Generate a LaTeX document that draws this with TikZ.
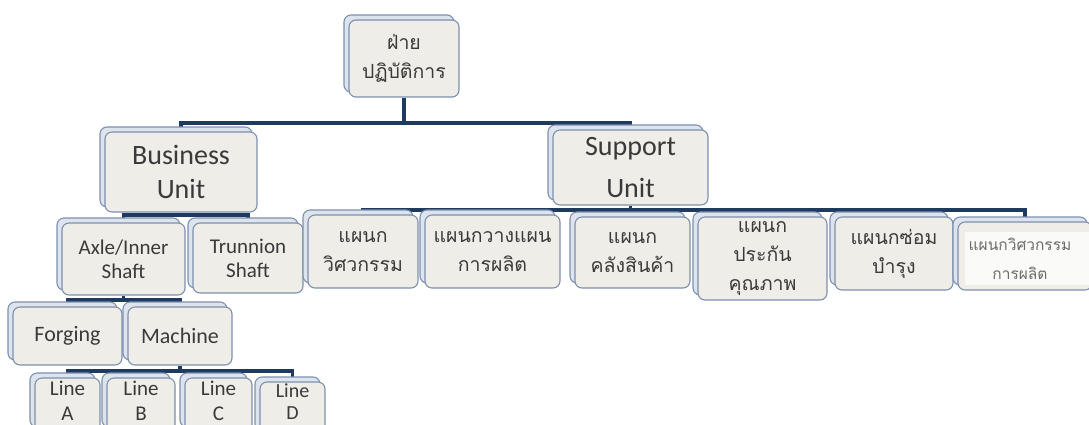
\documentclass[tikz,border=0pt]{standalone}
\usepackage{fontspec}
\setmainfont{Carlito}
\newfontfamily\thaifont[Script=Thai]{Loma}
\usetikzlibrary{shadows,backgrounds}

\definecolor{navy}{HTML}{1F3A5F}
\definecolor{cardfill}{HTML}{EEEDE7}
\definecolor{backfill}{HTML}{DEE4EE}
\definecolor{cardline}{HTML}{7D90AE}
\definecolor{txt}{HTML}{3A3A3A}
\definecolor{faint}{HTML}{6A6A6A}

\begin{document}
\begin{tikzpicture}[x=1pt,y=-1pt,
  card/.style={draw=cardline, fill=cardfill, rounded corners=7pt, line width=1.1pt,
    inner sep=0pt, align=center, text=txt,
    copy shadow={shadow xshift=-5pt, shadow yshift=5pt, fill=backfill, draw=cardline, line width=1.1pt}},
  big/.style={font=\fontsize{28}{34}\selectfont},
  mid/.style={font=\fontsize{21}{24}\selectfont},
  small/.style={font=\fontsize{22}{28}\selectfont},
  tiny/.style={font=\fontsize{21}{25}\selectfont, minimum height=54pt, text depth=9pt},
  th/.style={font=\thaifont\fontsize{19.5}{29}\selectfont},
  bus/.style={draw=navy, line width=3.5pt},
]
\useasboundingbox (0,0) rectangle (1089,424);

% level 0
\node[card, th, minimum width=110pt, minimum height=77pt] (top) at (404,58.5) {ฝ่าย\\ปฏิบัติการ};

% level 1
\node[card, big, minimum width=152pt, minimum height=80pt] (bu) at (181,172) {Business\\Unit};
\node[card, font=\fontsize{28}{42}\selectfont, minimum width=155pt, minimum height=75pt] (su) at (630.5,167.5) {Support\\Unit};

% business unit branch
\node[card, mid, minimum width=123pt, minimum height=72pt] (axle) at (123.5,259) {Axle/Inner\\Shaft};
\node[card, mid, minimum width=110pt, minimum height=70pt] (trun) at (248,258) {Trunnion\\Shaft};
\node[card, small, minimum width=109pt, minimum height=58pt] (forg) at (67.5,336) {Forging};
\node[card, small, minimum width=104pt, minimum height=58pt] (mach) at (180,336) {Machine};
\node[card, tiny, minimum width=65pt] (la) at (67.5,405) {Line\\A};
\node[card, tiny, minimum width=68pt] (lb) at (141,405) {Line\\B};
\node[card, tiny, minimum width=67pt] (lc) at (218.5,405) {Line\\C};
\node[card, tiny, font=\fontsize{20}{22}\selectfont, text depth=14pt, minimum width=65pt] (ld) at (292.5,409) {Line\\D};

% support unit branch
\node[card, th, minimum width=110pt, minimum height=73pt] (s1) at (363,251.5) {แผนก\\วิศวกรรม};
\node[card, th, minimum width=135pt, minimum height=73pt] (s2) at (492.5,251.5) {แผนกวางแผน\\การผลิต};
\node[card, th, minimum width=115pt, minimum height=71pt] (s3) at (632.5,252.5) {แผนก\\คลังสินค้า};
\node[card, th, minimum width=129pt, minimum height=83pt] (s4) at (762.5,258.5) {แผนก\\ประกัน\\คุณภาพ};
\node[card, th, minimum width=118pt, minimum height=73pt] (s5) at (894,253.5) {แผนกซ่อม\\บำรุง};
\node[card, minimum width=134pt, minimum height=68pt] (s6) at (1025,256) {};
\fill[white!70!cardfill] (s6.center) ++(-60,-24) rectangle ++(124,53);
\node[font=\thaifont\fontsize{15.5}{29}\selectfont, text=faint, align=center] (s6t) at (1020,259) {แผนกวิศวกรรม\\การผลิต};

% connector junction levels
\coordinate (j1) at (404,123);
\coordinate (j2) at (181,215);
\coordinate (j3) at (630.5,210);
\coordinate (j4) at (123.5,300);
\coordinate (j5) at (180,371);

\begin{scope}[on background layer]
  \foreach \c in {bu,su} \draw[bus] (top.south) -- (j1) -| (\c.north);
  \foreach \c in {axle,trun} \draw[bus] (bu.south) -- (j2) -| (\c.north);
  \foreach \c in {s1,s2,s3,s4,s5,s6} \draw[bus] (su.south) -- (j3) -| (\c.north);
  \foreach \c in {forg,mach} \draw[bus] (axle.south) -- (j4) -| (\c.north);
  \foreach \c in {la,lb,lc,ld} \draw[bus] (mach.south) -- (j5) -| (\c.north);
\end{scope}
\end{tikzpicture}
\end{document}
